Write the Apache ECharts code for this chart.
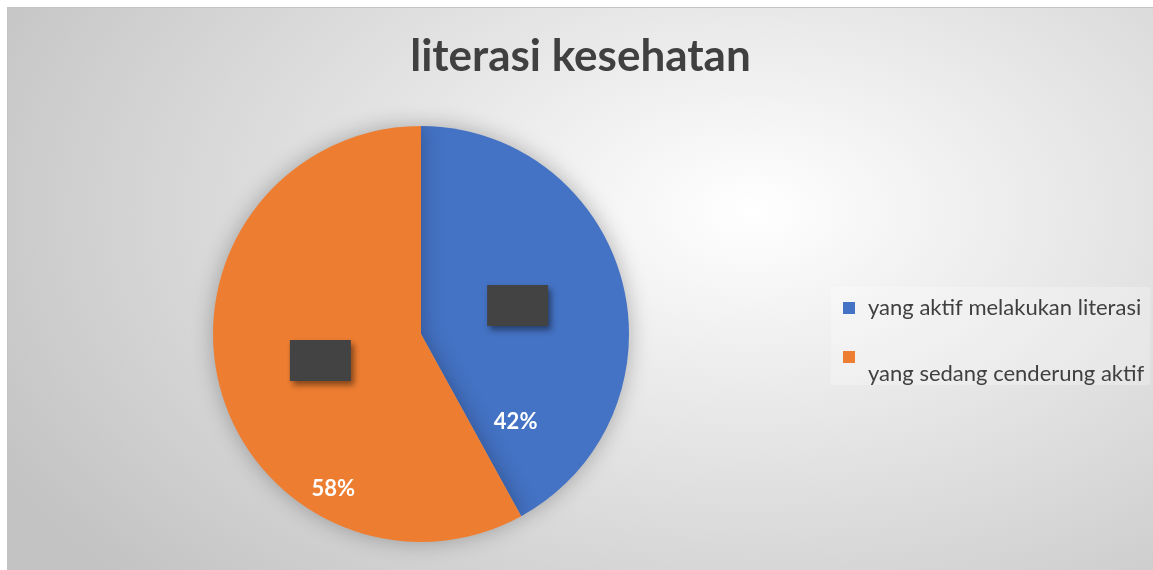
<!DOCTYPE html>
<html>
<head>
<meta charset="utf-8">
<script src="https://cdn.jsdelivr.net/npm/echarts@6/dist/echarts.min.js"></script>
<style>
  html, body { margin: 0; padding: 0; background: #fff; }
  #chart {
    position: absolute;
    left: 7px;
    top: 7px;
    width: 1146px;
    height: 563px;
    box-sizing: border-box;
    border-top: 1px solid #c4c4c4;
    border-left: 1px solid #c4c4c4;
    background: radial-gradient(ellipse 75% 95% at 65% 36%, #ffffff 0%, #f4f4f4 18%, #c3c3c3 100%);
  }
</style>
</head>
<body>
<div id="chart"></div>
<script>
const titleText = 'literasi kesehatan'
const categories = ['yang aktif melakukan literasi', 'yang sedang cenderung aktif']
const values = [42, 58]
const colors = ['#4472C4', '#ED7D31']
// percent labels were dragged away from the slice middle in the original
const pctLabelShift = [[-9, 115], [16, 128]]
const boxShift = [[-7, -2], [3, 0]]

const chart = echarts.init(document.getElementById('chart'))

const pieData = categories.map((name, i) => {
  return { name: name, value: values[i], itemStyle: { color: colors[i] } }
})

const option = {
  backgroundColor: 'transparent',
  textStyle: { fontFamily: 'Lato' },
  title: {
    text: titleText,
    left: 'center',
    top: 22,
    textStyle: {
      fontFamily: 'Lato',
      fontWeight: 'bold',
      fontSize: 44,
      color: '#404040'
    }
  },
  legend: {
    orient: 'vertical',
    left: 823,
    top: 279,
    padding: [10, 6, 0, 12],
    backgroundColor: 'rgba(255,255,255,0.25)',
    itemWidth: 12,
    itemHeight: 12,
    itemGap: 10,
    icon: 'rect',
    data: categories,
    formatter: name => {
      return name === categories[1] ? '{b|' + name + '}' : '{a|' + name + '}'
    },
    textStyle: {
      fontFamily: 'Lato',
      fontSize: 22,
      color: '#404040',
      rich: {
        a: { fontFamily: 'Lato', fontSize: 22, lineHeight: 27, color: '#404040', padding: [0, 0, 0, 8] },
        b: { fontFamily: 'Lato', fontSize: 22, lineHeight: 27, color: '#404040', padding: [34, 0, 0, 8] }
      }
    }
  },
  series: [
    {
      type: 'pie',
      center: [413, 326],
      radius: 208,
      startAngle: 90,
      clockwise: true,
      avoidLabelOverlap: false,
      data: pieData,
      itemStyle: {
        shadowBlur: 22,
        shadowColor: 'rgba(0,0,0,0.28)'
      },
      emphasis: { disabled: true },
      labelLine: { show: false },
      // dark placeholder boxes left where the original labels sat
      label: {
        show: true,
        position: 'inside',
        formatter: ' ',
        width: 61,
        height: 41,
        padding: 0,
        backgroundColor: '#434343',
        shadowBlur: 6,
        shadowColor: 'rgba(0,0,0,0.45)',
        shadowOffsetX: 3,
        shadowOffsetY: 4
      },
      labelLayout: params => {
        const s = boxShift[params.dataIndex]
        return { dx: s[0], dy: s[1] }
      }
    },
    {
      type: 'pie',
      center: [413, 326],
      radius: 208,
      startAngle: 90,
      clockwise: true,
      silent: true,
      avoidLabelOverlap: false,
      data: categories.map((name, i) => ({ name: name, value: values[i] })),
      itemStyle: { color: 'rgba(0,0,0,0)' },
      labelLine: { show: false },
      label: {
        show: true,
        position: 'inside',
        formatter: p => p.value + '%',
        fontFamily: 'Lato',
        fontWeight: 'bold',
        fontSize: 22,
        color: '#ffffff'
      },
      labelLayout: params => {
        const s = pctLabelShift[params.dataIndex]
        return { dx: s[0], dy: s[1] }
      }
    }
  ]
}

chart.setOption(option)
</script>
</body>
</html>
